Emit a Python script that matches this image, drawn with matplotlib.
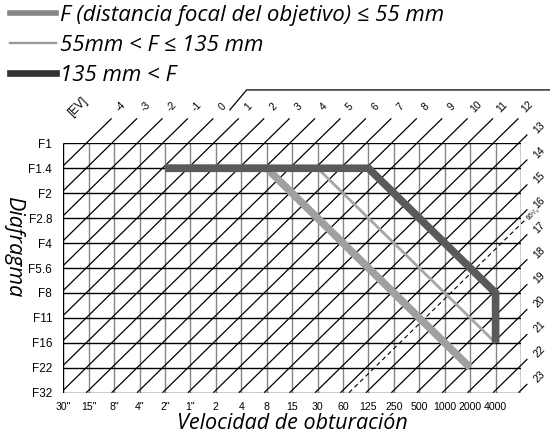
import matplotlib.pyplot as plt
from matplotlib.lines import Line2D

# shutter speeds (columns) and apertures (rows)
shutter = ['30"', '15"', '8"', '4"', '2"', '1"', '2', '4', '8', '15', '30',
           '60', '125', '250', '500', '1000', '2000', '4000']
apertures = ['F1', 'F1.4', 'F2', 'F2.8', 'F4', 'F5.6', 'F8', 'F11', 'F16',
             'F22', 'F32']
ev_values = list(range(-4, 24))
ev_dashed = 16 + 1 / 3

# program lines as (shutter index, aperture index)
short_x = [4, 8, 16]          # F <= 55 mm
short_y = [1, 1, 9]
mid_x = [4, 10, 17]           # 55 < F <= 135
mid_y = [1, 1, 8]
long_x = [4, 12, 17, 17]      # 135 < F
long_y = [1, 1, 6, 8]

legend_labels = ['F (distancia focal del objetivo) \u2264 55 mm',
                 '55mm < F \u2264 135 mm',
                 '135 mm < F']

ITAL = ['Open Sans', 'DejaVu Sans']
TICK = ['Liberation Sans', 'DejaVu Sans']

fig = plt.figure(figsize=(5.5, 4.36), dpi=100)
ax = fig.add_axes([0.1151, 0.0993, 0.8322, 0.572])
ncol = len(shutter)
nrow = len(apertures) - 1
ax.set_xlim(0, ncol)
ax.set_ylim(nrow, 0)
for s in ax.spines.values():
    s.set_visible(False)

# grid
ax.vlines(range(1, ncol), 0, nrow, color='#858585', lw=1.0, zorder=1)
ax.vlines([0, ncol], 0, nrow, color='black', lw=1.0, zorder=1)
ax.hlines(range(nrow + 1), 0, ncol, color='black', lw=1.0, zorder=1)

shift = 5 - 0.1


def ev_segment(e, ext_top=1.0, ext_right=0.25):
    k = e + shift
    if k <= nrow:
        x0, y0 = 0, k
    else:
        x0, y0 = k - nrow, nrow
    if k <= ncol - 1:
        x1, y1 = k + ext_top, -ext_top
    else:
        x1, y1 = ncol + ext_right, k - ncol - ext_right
    return (x0, x1), (y0, y1)


for e in ev_values:
    xs, ys = ev_segment(e)
    ax.plot(xs, ys, color='black', lw=0.9, clip_on=False, zorder=2,
            solid_capstyle='butt')
    if ys[1] < 0 and xs[1] < ncol:
        off = (6.5, 8.5)
    else:
        off = (8.5, 5)
    ax.annotate(str(e), (xs[1], ys[1]), xytext=off, textcoords='offset points',
                rotation=45, ha='center', va='center', fontsize=7.5,
                family=TICK, annotation_clip=False)

xs, ys = ev_segment(ev_dashed)
ax.plot(xs, ys, color='black', lw=0.8, ls=(0, (4, 3)), clip_on=False, zorder=2)
ax.annotate('16\u00b9/\u2083', (xs[1], ys[1]), xytext=(4, 3),
            textcoords='offset points', rotation=45, ha='center', va='center',
            fontsize=5, family=TICK, annotation_clip=False)

ax.text(0.58, -1.47, '[EV]', rotation=45, ha='center', va='center',
        fontsize=8.5, family=TICK)

# decorative rule at the top
ax.plot([6.55, 7.21, 19.2], [-1.34, -2.14, -2.14], color='black', lw=0.9,
        clip_on=False)

# program lines
ax.plot(short_x, short_y, color='#a0a0a0', lw=5.5, solid_capstyle='butt',
        solid_joinstyle='miter', zorder=3)
ax.plot(mid_x, mid_y, color='#a6a6a6', lw=2.0, solid_capstyle='butt',
        solid_joinstyle='miter', zorder=4)
ax.plot(long_x, long_y, color='#5a5a5a', lw=5.5, solid_capstyle='butt',
        solid_joinstyle='miter', zorder=5)

# ticks
ax.set_xticks(range(ncol))
ax.set_xticklabels(shutter, family=TICK, fontsize=7.6)
ax.set_yticks(range(nrow + 1))
ax.set_yticklabels(apertures, family=TICK, fontsize=8.5)
ax.tick_params(length=0)
ax.tick_params(axis='x', pad=6.5)
ax.tick_params(axis='y', pad=8)

fig.text(0.531, 0.016, 'Velocidad de obturaci\u00f3n', ha='center',
         va='baseline', family=ITAL, style='italic', fontsize=15.5)
ax.text(-0.108, 0.585, 'Diafragma', transform=ax.transAxes, rotation=270,
        ha='center', va='center', family=ITAL, style='italic', fontsize=15.5)

handles = [Line2D([], [], color='#858585', lw=4.0),
           Line2D([], [], color='#9a9a9a', lw=1.7),
           Line2D([], [], color='#333333', lw=4.8)]
fig.legend(handles, legend_labels, loc='upper left',
           bbox_to_anchor=(0.0, 1.012), frameon=False,
           prop={'family': ITAL, 'style': 'italic', 'size': 16},
           handlelength=2.05, handletextpad=0.22, labelspacing=0.4,
           borderaxespad=0.15, borderpad=0.3)

fig.savefig('out.png', dpi=100)
